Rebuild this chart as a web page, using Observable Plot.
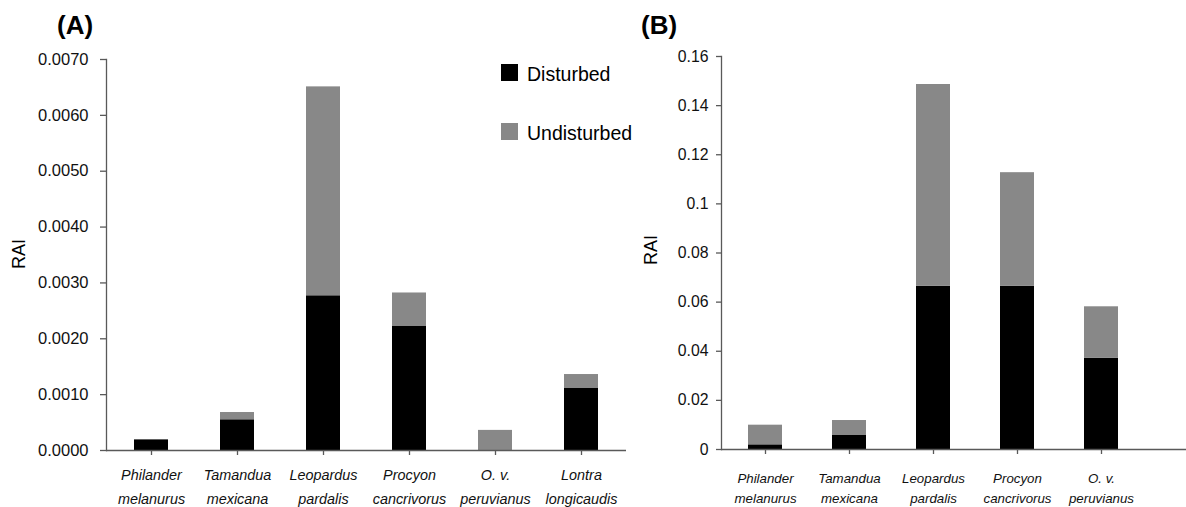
<!DOCTYPE html>
<html>
<head>
<meta charset="utf-8">
<script src="https://cdn.jsdelivr.net/npm/d3@7"></script>
<script src="https://cdn.jsdelivr.net/npm/@observablehq/plot@0.6"></script>
<style>
  html, body { margin: 0; padding: 0; background: #fff; }
  #wrap { position: relative; width: 1186px; height: 507px; overflow: hidden; font-family: "Liberation Sans", Arial, sans-serif; }
  #wrap > svg, #wrap > div { position: absolute; top: 0; }
  #pa { left: 0; }
  #pb { left: 640px; }
  #overlay { position: absolute; left: 0; top: 0; pointer-events: none; }
</style>
</head>
<body>
<div id="wrap">
  <div id="pa"></div>
  <div id="pb"></div>
  <svg id="overlay" width="1186" height="507" font-family="Liberation Sans, Arial, sans-serif">
    <text x="57" y="34" font-size="26" font-weight="bold">(A)</text>
    <text x="641" y="34" font-size="26" font-weight="bold">(B)</text>
    <text transform="translate(25,254) rotate(-90)" text-anchor="middle" font-size="18">RAI</text>
    <text transform="translate(657,250) rotate(-90)" text-anchor="middle" font-size="18">RAI</text>
    <rect x="501" y="64" width="17" height="17" fill="#000"></rect>
    <text x="527" y="81" font-size="19.5">Disturbed</text>
    <rect x="501" y="123" width="17" height="17" fill="#888"></rect>
    <text x="527" y="140" font-size="19.5">Undisturbed</text>
  </svg>
</div>
<script>
const statuses = ["Disturbed", "Undisturbed"];
const statusColors = ["#000000", "#888888"];

const speciesA = ["Philander\nmelanurus", "Tamandua\nmexicana", "Leopardus\npardalis", "Procyon\ncancrivorus", "O. v.\nperuvianus", "Lontra\nlongicaudis"];
const disturbedA   = [0.00019, 0.00055, 0.00277, 0.00222, 0.00000, 0.00111];
const undisturbedA = [0.00000, 0.00013, 0.00374, 0.00060, 0.00036, 0.00025];
const yTicksA = [0, 0.001, 0.002, 0.003, 0.004, 0.005, 0.006, 0.007];

const speciesB = ["Philander\nmelanurus", "Tamandua\nmexicana", "Leopardus\npardalis", "Procyon\ncancrivorus", "O. v.\nperuvianus"];
const disturbedB   = [0.0019, 0.0057, 0.0665, 0.0665, 0.0371];
const undisturbedB = [0.0080, 0.0061, 0.0821, 0.0462, 0.0210];
const yTicksB = [0, 0.02, 0.04, 0.06, 0.08, 0.10, 0.12, 0.14, 0.16];

const axisColor = "#595959";

function panel(o) {
  const data = [];
  o.species.forEach((s, i) => {
    data.push({species: s, status: statuses[0], value: o.dis[i]});
    data.push({species: s, status: statuses[1], value: o.und[i]});
  });
  return Plot.plot({
    width: o.width, height: 507,
    marginLeft: o.marginLeft, marginRight: o.marginRight,
    marginTop: o.marginTop, marginBottom: o.marginBottom,
    style: {fontFamily: "Liberation Sans, Arial, sans-serif", background: "transparent", color: "#111", overflow: "visible"},
    x: {domain: o.species, range: o.xRange, paddingInner: 0.6, paddingOuter: 0.3, label: null},
    y: {domain: [o.yTicks[0], o.yTicks[o.yTicks.length - 1]], label: null},
    color: {domain: statuses, range: statusColors},
    marks: [
      Plot.barY(data, {x: "species", y: "value", fill: "status"}),
      Plot.ruleY([0], {stroke: axisColor, strokeWidth: 1.3}),
      Plot.frame({anchor: "left", stroke: axisColor, strokeWidth: 1.3}),
      Plot.axisY({ticks: o.yTicks, tickFormat: o.yFormat, tickSize: o.ySize, tickPadding: o.yPad,
        fontSize: o.tickFont, stroke: axisColor, strokeWidth: 1.3, fill: "#111", label: null}),
      Plot.axisX({tickSize: 5, tickPadding: o.catPad, fontSize: o.catFont, fontStyle: "italic",
        lineHeight: o.catLH, stroke: axisColor, strokeWidth: 1.3, fill: "#111", label: null})
    ]
  });
}

document.getElementById("pa").appendChild(panel({
  species: speciesA, dis: disturbedA, und: undisturbedA, yTicks: yTicksA,
  yFormat: d3.format(".4f"),
  width: 640, marginLeft: 106, marginRight: 14, xRange: [106, 626],
  marginTop: 59, marginBottom: 57,
  tickFont: 16.5, ySize: 6, yPad: 12,
  catFont: 14.4, catLH: 1.66, catPad: 7.5
}));

document.getElementById("pb").appendChild(panel({
  species: speciesB, dis: disturbedB, und: undisturbedB, yTicks: yTicksB,
  yFormat: d => String(+d.toFixed(2)),
  width: 546, marginLeft: 81, marginRight: 0, xRange: [81, 504.5],
  marginTop: 56, marginBottom: 58,
  tickFont: 15.8, ySize: 5, yPad: 8,
  catFont: 13.3, catLH: 1.5, catPad: 14.5
}));
</script>
</body>
</html>
